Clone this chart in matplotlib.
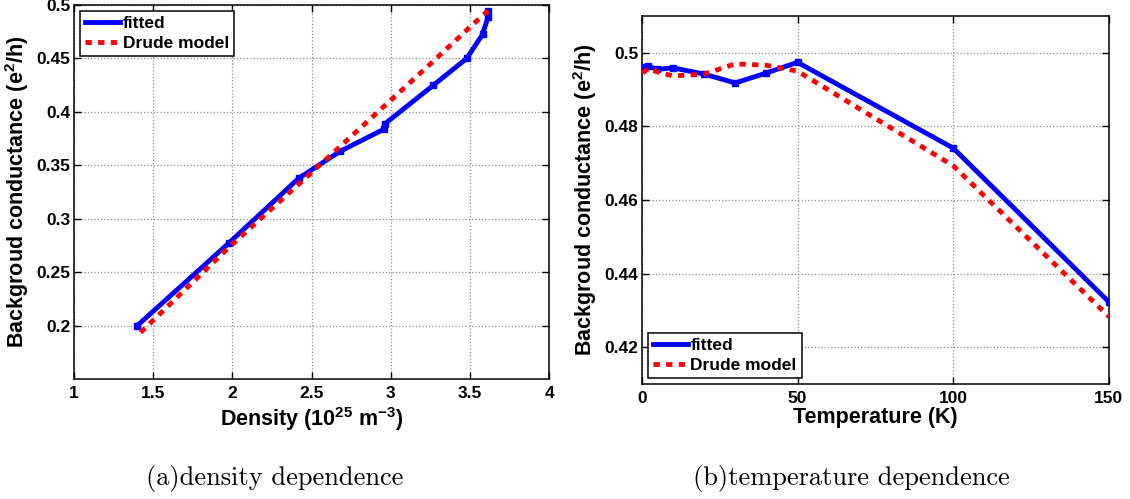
import numpy as np
import matplotlib
matplotlib.use('Agg')
from matplotlib import pyplot as plt
from matplotlib.lines import Line2D

plt.rcParams['font.family'] = ['Liberation Sans', 'DejaVu Sans']
plt.rcParams['font.weight'] = 'bold'
plt.rcParams['mathtext.fontset'] = 'custom'
plt.rcParams['mathtext.rm'] = 'Liberation Sans:bold'
plt.rcParams['mathtext.bf'] = 'Liberation Sans:bold'
plt.rcParams['mathtext.default'] = 'bf'

# (a) density dependence
density_fit = [1.40, 1.98, 2.42, 2.68, 2.96, 2.965, 3.27, 3.48, 3.58, 3.615, 3.615]
cond_fit = [0.200, 0.2775, 0.338, 0.363, 0.384, 0.389, 0.425, 0.450, 0.4725, 0.489, 0.494]
density_drude = [1.42, 1.98, 2.42, 2.68, 2.96, 3.27, 3.48, 3.58, 3.615]
cond_drude = [0.1935, 0.2735, 0.3325, 0.3675, 0.4055, 0.4475, 0.4765, 0.490, 0.4945]

# (b) temperature dependence
temp_fit = [1, 2, 5, 10, 20, 30, 40, 50, 100, 150]
cond_t_fit = [0.4962, 0.4963, 0.4955, 0.4959, 0.4942, 0.4918, 0.4945, 0.4974, 0.4741, 0.4323]
temp_drude = [0.3, 2, 5, 10, 20, 30, 40, 50, 100, 150]
cond_t_drude = [0.4945, 0.4957, 0.4948, 0.4937, 0.4942, 0.4970, 0.4966, 0.4950, 0.4693, 0.4283]

ylabel = 'Backgroud conductance (e$^{2}$/h)'
LW = 3.5

fig = plt.figure(figsize=(11.3, 4.99), dpi=100)
ax1 = fig.add_axes([0.0655, 0.2405, 0.4204, 0.7495])
ax2 = fig.add_axes([0.568, 0.2305, 0.4133, 0.7375])


def style(ax):
    ax.grid(True, linestyle=':', color='0.55', linewidth=0.9)
    ax.tick_params(direction='in', length=5, width=1, top=True, right=True,
                   labelsize=12.5)
    ax.tick_params(axis='x', pad=5)
    ax.tick_params(axis='y', pad=2.5)
    for sp in ax.spines.values():
        sp.set_linewidth(1.1)
    for lab in ax.get_xticklabels() + ax.get_yticklabels():
        lab.set_fontweight('bold')


def draw(ax, x1, y1, x2, y2):
    ax.plot(x1, y1, '-', color='blue', lw=LW, zorder=3)
    ax.plot(x1, y1, 's', color='blue', ms=4, zorder=3)
    ax.plot(x2, y2, color='red', lw=LW, dashes=(1.3, 1.3), zorder=4)


def legend(ax, loc):
    handles = [Line2D([], [], color='blue', lw=LW),
               Line2D([], [], color='red', lw=LW, dashes=(1.3, 1.3))]
    leg = ax.legend(handles, ['fitted', 'Drude model'], loc=loc, fontsize=12.5,
                    fancybox=False, edgecolor='black', framealpha=1,
                    handlelength=2.0, borderaxespad=0.35, labelspacing=0.25,
                    handletextpad=0.15, borderpad=0.3)
    leg.get_frame().set_linewidth(1.1)


draw(ax1, density_fit, cond_fit, density_drude, cond_drude)
ax1.set_xlim(1, 4)
ax1.set_ylim(0.15, 0.5)
ax1.set_xticks([1, 1.5, 2, 2.5, 3, 3.5, 4])
ax1.set_xticklabels(['1', '1.5', '2', '2.5', '3', '3.5', '4'])
ax1.set_yticks([0.2, 0.25, 0.3, 0.35, 0.4, 0.45, 0.5])
ax1.set_yticklabels(['0.2', '0.25', '0.3', '0.35', '0.4', '0.45', '0.5'])
ax1.set_xlabel('Density (10$^{25}$ m$^{-3}$)', fontsize=15.5, fontweight='bold', labelpad=3)
ax1.set_ylabel(ylabel, fontsize=15.5, fontweight='bold', labelpad=4)
style(ax1)
legend(ax1, 'upper left')

draw(ax2, temp_fit, cond_t_fit, temp_drude, cond_t_drude)
ax2.set_xlim(0, 150)
ax2.set_ylim(0.41, 0.51)
ax2.set_xticks([0, 50, 100, 150])
ax2.set_yticks([0.42, 0.44, 0.46, 0.48, 0.5])
ax2.set_yticklabels(['0.42', '0.44', '0.46', '0.48', '0.5'])
ax2.set_xlabel('Temperature (K)', fontsize=15.5, fontweight='bold', labelpad=1)
ax2.set_ylabel(ylabel, fontsize=15.5, fontweight='bold', labelpad=4)
style(ax2)
legend(ax2, 'lower left')

fig.text(275 / 1130, 1 - 478 / 499, '(a)density dependence', family='cmr10',
         fontsize=19, ha='center', va='center', fontweight='normal')
fig.text(851 / 1130, 1 - 478 / 499, '(b)temperature dependence', family='cmr10',
         fontsize=19, ha='center', va='center', fontweight='normal')

fig.savefig('out.png', dpi=100)
